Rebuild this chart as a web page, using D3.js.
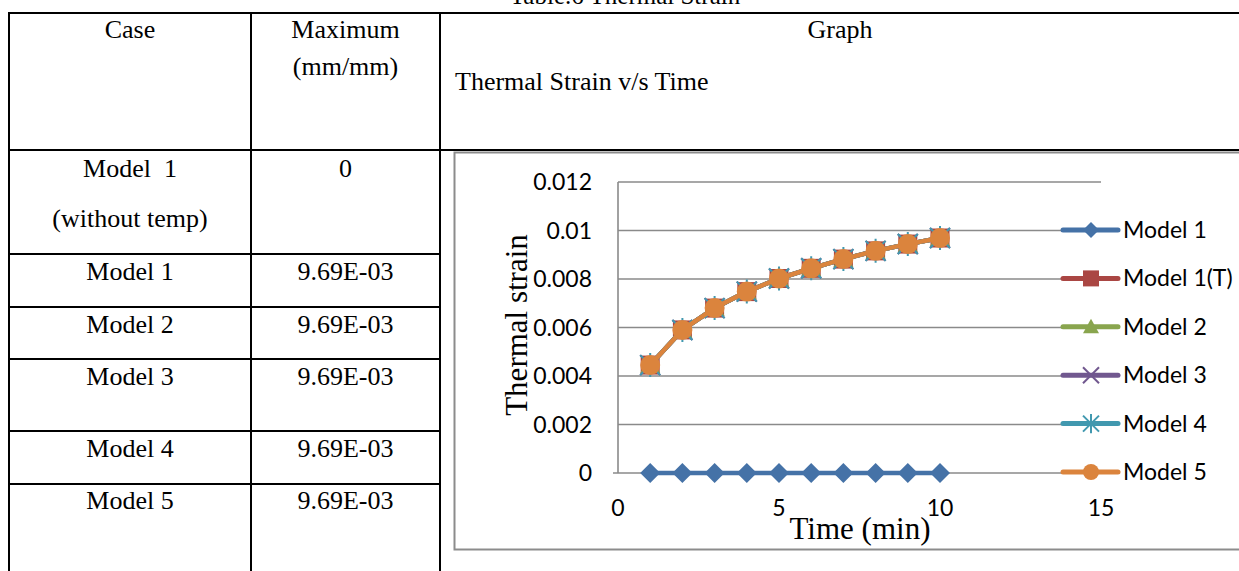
<!DOCTYPE html>
<html>
<head>
<meta charset="utf-8">
<script src="https://cdn.jsdelivr.net/npm/d3@7"></script>
<style>
  body { margin: 0; background: #fff; }
  svg { display: block; }
</style>
</head>
<body>
<script>
const w = 1239;
const h = 571;

// table contents
const caseLabels = [["Model  1", "(without temp)"], ["Model 1"], ["Model 2"], ["Model 3"], ["Model 4"], ["Model 5"]];
const maxima = ["0", "9.69E-03", "9.69E-03", "9.69E-03", "9.69E-03", "9.69E-03"];

// chart data (time in min, thermal strain mm/mm)
const time = [1, 2, 3, 4, 5, 6, 7, 8, 9, 10];
const model1 = [0, 0, 0, 0, 0, 0, 0, 0, 0, 0];
const model1T = [0.00445, 0.0059, 0.0068, 0.00748, 0.00802, 0.00844, 0.00882, 0.00916, 0.00944, 0.00969];
const model2 = [0.00445, 0.0059, 0.0068, 0.00748, 0.00802, 0.00844, 0.00882, 0.00916, 0.00944, 0.00969];
const model3 = [0.00445, 0.0059, 0.0068, 0.00748, 0.00802, 0.00844, 0.00882, 0.00916, 0.00944, 0.00969];
const model4 = [0.00445, 0.0059, 0.0068, 0.00748, 0.00802, 0.00844, 0.00882, 0.00916, 0.00944, 0.00969];
const model5 = [0.00445, 0.0059, 0.0068, 0.00748, 0.00802, 0.00844, 0.00882, 0.00916, 0.00944, 0.00969];
const seriesNames = ["Model 1", "Model 1(T)", "Model 2", "Model 3", "Model 4", "Model 5"];
const yTicks = [0, 0.002, 0.004, 0.006, 0.008, 0.01, 0.012];
const xTicks = [0, 5, 10, 15];

const seriesValues = [model1, model1T, model2, model3, model4, model5];
const colors = ["#4572A7", "#AA4643", "#89A54E", "#71588F", "#4198AF", "#DB843D"];
const shapes = ["diamond", "square", "triangle", "x", "star", "circle"];

const serif = "'Liberation Serif', 'Times New Roman', serif";
const sans = "Lato, 'Open Sans', sans-serif";

const svg = d3.select("body")
  .append("svg")
  .attr("width", w)
  .attr("height", h);

svg.append("rect").attr("width", w).attr("height", h).attr("fill", "#fff");

// ---- table ----
const colX = [9, 251, 440, 1240];
const rowY = [13, 150, 254, 307, 359, 431, 484, 620];

svg.append("text")
  .attr("x", 625).attr("y", 4)
  .attr("text-anchor", "middle")
  .style("font-family", serif).style("font-size", "25px")
  .text("Table.6 Thermal Strain");

const grid = svg.append("g").attr("stroke", "#000").attr("stroke-width", 2);
colX.forEach(x => {
  grid.append("line").attr("x1", x).attr("x2", x).attr("y1", rowY[0]).attr("y2", h);
});
rowY.forEach((y, i) => {
  grid.append("line")
    .attr("x1", colX[0] - 1).attr("x2", i < 2 ? colX[3] : colX[2])
    .attr("y1", y).attr("y2", y);
});

const cell = (x, y, txt, anchor) => svg.append("text")
  .attr("x", x).attr("y", y)
  .attr("text-anchor", anchor || "middle")
  .style("font-family", serif).style("font-size", "26px")
  .text(txt);

cell((colX[0] + colX[1]) / 2, 38, "Case");
cell((colX[1] + colX[2]) / 2, 38, "Maximum");
cell((colX[1] + colX[2]) / 2, 75, "(mm/mm)");
cell(840, 38, "Graph");
cell(455, 90, "Thermal Strain v/s Time", "start");

const baselines = [177, 280, 333, 385, 457, 509];
caseLabels.forEach((lines, i) => {
  lines.forEach((t, j) => cell((colX[0] + colX[1]) / 2, baselines[i] + j * 50, t)
    .style("white-space", "pre"));
  cell((colX[1] + colX[2]) / 2, baselines[i], maxima[i]);
});

// ---- chart ----
svg.append("rect")
  .attr("x", 454.5).attr("y", 152.5)
  .attr("width", 900).attr("height", 397)
  .attr("fill", "#fff")
  .attr("stroke", "#8c8c8c").attr("stroke-width", 2);

const xScale = d3.scaleLinear().domain([0, 15]).range([618, 1101]);
const yScale = d3.scaleLinear().domain([0, 0.012]).range([473, 182]);

// gridlines
svg.append("g")
  .selectAll("line")
  .data(yTicks)
  .join("line")
  .attr("x1", d => d === 0 ? 613 : xScale(0))
  .attr("x2", xScale(15))
  .attr("y1", d => yScale(d)).attr("y2", d => yScale(d))
  .attr("stroke", "#8a8a8a").attr("stroke-width", 1.6);

svg.append("line")
  .attr("x1", xScale(0)).attr("x2", xScale(0))
  .attr("y1", yScale(0.012)).attr("y2", yScale(0))
  .attr("stroke", "#8a8a8a").attr("stroke-width", 1.6);

// tick labels
svg.append("g")
  .selectAll("text")
  .data(yTicks)
  .join("text")
  .attr("x", 592)
  .attr("y", d => yScale(d))
  .attr("dy", "0.35em")
  .attr("text-anchor", "end")
  .style("font-family", sans).style("font-size", "23px")
  .text(d => d3.format("~g")(d));

svg.append("g")
  .selectAll("text")
  .data(xTicks)
  .join("text")
  .attr("x", d => xScale(d))
  .attr("y", 516)
  .attr("text-anchor", "middle")
  .style("font-family", sans).style("font-size", "23px")
  .text(d => d);

// axis titles
svg.append("text")
  .attr("transform", "translate(527,325) rotate(-90)")
  .attr("text-anchor", "middle")
  .style("font-family", serif).style("font-size", "31px")
  .text("Thermal strain");

svg.append("text")
  .attr("x", 860).attr("y", 539)
  .attr("text-anchor", "middle")
  .style("font-family", serif).style("font-size", "31px")
  .text("Time (min)");

// marker shapes
function markerPath(type, r) {
  if (type === "diamond") return `M0,${-r}L${r},0L0,${r}L${-r},0Z`;
  if (type === "square") return `M${-r},${-r}H${r}V${r}H${-r}Z`;
  if (type === "triangle") return `M0,${-r}L${r},${r * 0.8}H${-r}Z`;
  if (type === "x") return `M${-r},${-r}L${r},${r}M${r},${-r}L${-r},${r}`;
  if (type === "star") return `M${-r},${-r}L${r},${r}M${r},${-r}L${-r},${r}M0,${-r * 1.2}V${r * 1.2}`;
  return d3.arc()({innerRadius: 0, outerRadius: r, startAngle: 0, endAngle: 2 * Math.PI});
}
const stroked = t => t === "x" || t === "star";

const line = d3.line()
  .x((d, i) => xScale(time[i]))
  .y(d => yScale(d));

seriesValues.forEach((vals, k) => {
  const g = svg.append("g");
  g.append("path")
    .attr("d", line(vals))
    .attr("fill", "none")
    .attr("stroke", colors[k])
    .attr("stroke-width", 4.5)
    .attr("stroke-linejoin", "round")
    .attr("stroke-linecap", "round");
  g.selectAll("path.m")
    .data(vals)
    .join("path")
    .attr("class", "m")
    .attr("transform", (d, i) => `translate(${xScale(time[i])},${yScale(d)})`)
    .attr("d", markerPath(shapes[k], shapes[k] === "square" ? 9.5 : 10))
    .attr("fill", stroked(shapes[k]) ? "none" : colors[k])
    .attr("stroke", stroked(shapes[k]) ? colors[k] : "none")
    .attr("stroke-width", 2);
});

// legend
const legendY = d3.scalePoint().domain(seriesNames).range([230, 472]);
const leg = svg.append("g")
  .selectAll("g")
  .data(seriesNames)
  .join("g")
  .attr("transform", d => `translate(0,${legendY(d)})`);

leg.append("line")
  .attr("x1", 1063).attr("x2", 1118)
  .attr("stroke", (d, i) => colors[i])
  .attr("stroke-width", 5)
  .attr("stroke-linecap", "round");

leg.append("path")
  .attr("transform", "translate(1091,0)")
  .attr("d", (d, i) => markerPath(shapes[i], 8))
  .attr("fill", (d, i) => stroked(shapes[i]) ? "none" : colors[i])
  .attr("stroke", (d, i) => stroked(shapes[i]) ? colors[i] : "none")
  .attr("stroke-width", 2);

leg.append("text")
  .attr("x", 1123)
  .attr("dy", "0.35em")
  .style("font-family", sans).style("font-size", "23px")
  .text(d => d);
</script>
</body>
</html>
